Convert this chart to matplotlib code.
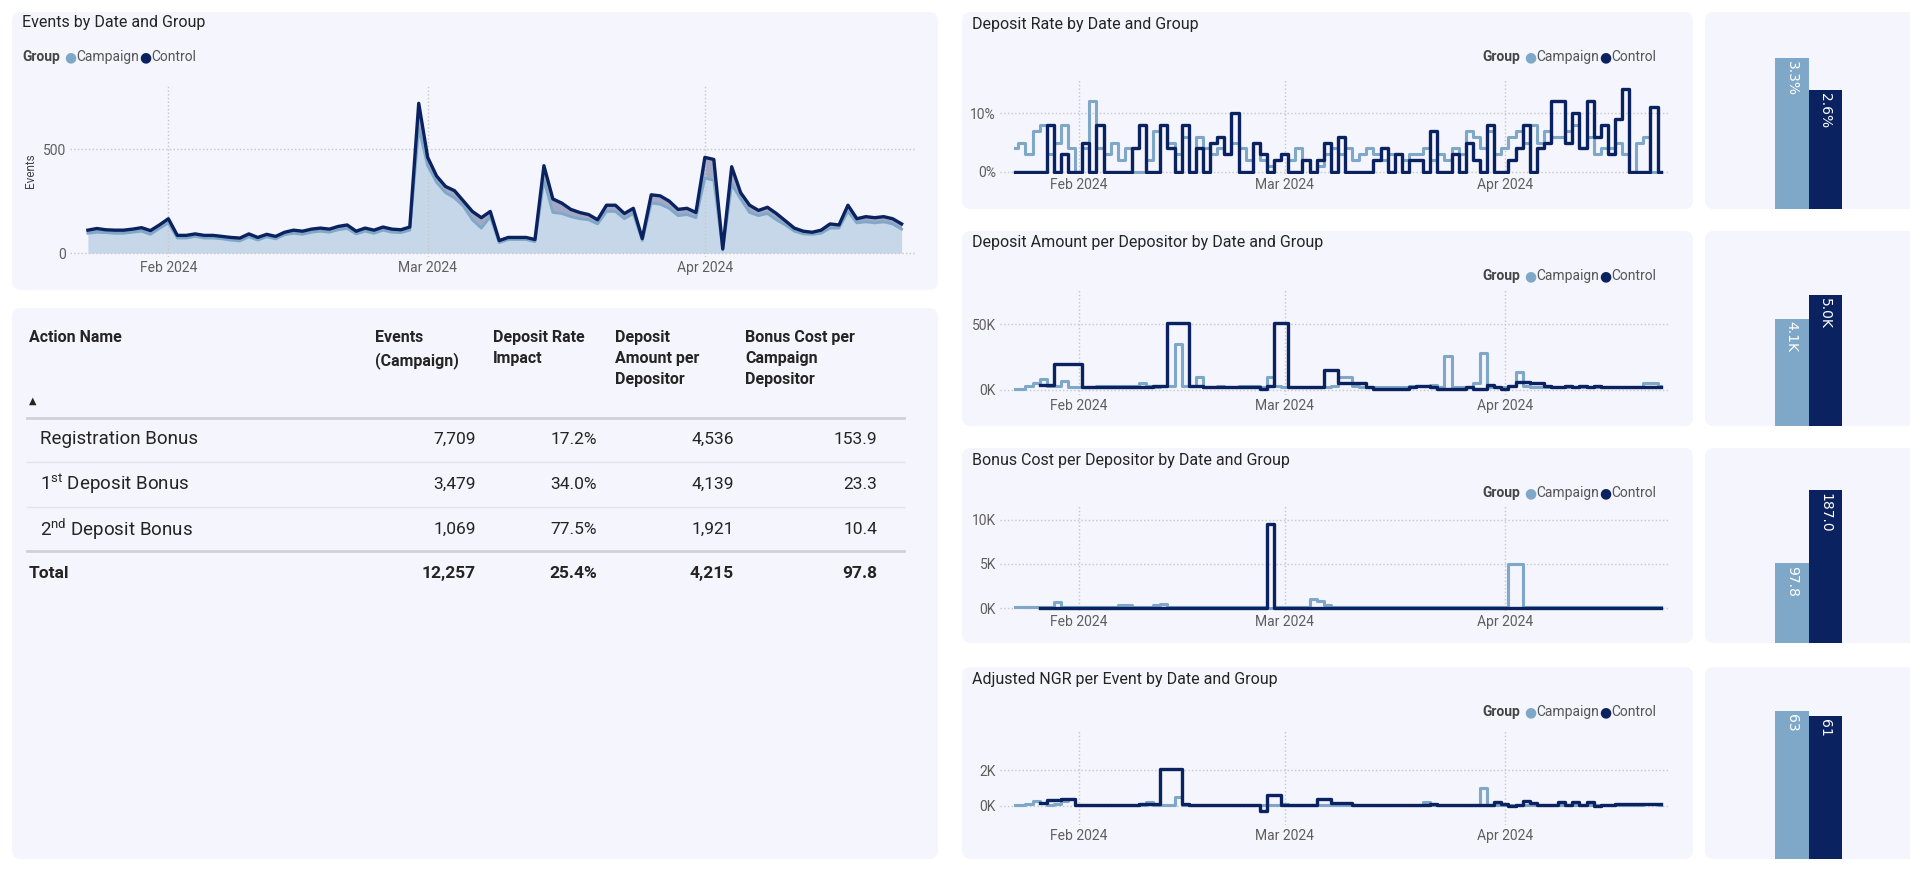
import numpy as np
import pandas as pd
import matplotlib
matplotlib.use("Agg")
import matplotlib.pyplot as plt
import matplotlib.dates as mdates
from matplotlib.patches import FancyBboxPatch
from matplotlib.transforms import IdentityTransform

plt.rcParams['font.family'] = ['Roboto', 'DejaVu Sans']
plt.rcParams['mathtext.default'] = 'regular'

W, H = 1910, 872
C_CAMP = "#7FA8C8"
C_CTRL = "#0B2260"
PANEL = "#F4F5FD"
GRAY = "#605E5C"

### data ###
dates = pd.date_range("2024-01-23", periods=92)

events_control = [110, 118, 112, 110, 110, 115, 122, 108, 135, 165,
                  85, 85, 92, 85, 85, 80, 75, 72, 92, 75,
                  90, 80, 100, 110, 105, 115, 120, 115, 128, 135,
                  105, 120, 110, 125, 115, 112, 125,
                  720, 460, 370, 320, 300, 250, 200, 170, 200, 60,
                  75, 75, 75, 65, 420, 260, 240, 210, 195, 185,
                  160, 230, 230, 190, 215, 70, 280, 275, 250, 210,
                  215, 195, 460, 450, 20, 415, 290, 230, 205, 220,
                  190, 155, 120, 105, 100, 110, 140, 135, 230, 165,
                  175, 170, 175, 165, 140]
events_campaign = [95, 100, 98, 95, 95, 100, 105, 90, 118, 145,
                   72, 72, 80, 72, 72, 68, 62, 58, 78, 62,
                   78, 68, 88, 95, 90, 100, 105, 100, 112, 118,
                   92, 105, 95, 110, 100, 98, 110,
                   600, 420, 340, 290, 265, 225, 160, 120, 175, 50,
                   65, 65, 65, 55, 350, 195, 190, 175, 165, 160,
                   140, 200, 200, 165, 190, 60, 240, 235, 215, 180,
                   185, 170, 360, 350, 15, 330, 260, 195, 180, 190,
                   160, 135, 105, 92, 90, 95, 120, 120, 200, 145,
                   150, 145, 150, 140, 115]

rate_control = [0, 0, 0, 0, 0, 8, 0, 3, 0, 0, 5, 0, 8, 0, 0, 0, 0, 4, 8, 0,
                0, 8, 4, 0, 8, 0, 4, 0, 5, 6, 3, 10, 0, 0, 5, 3, 0, 2, 3, 0,
                0, 2, 0, 2, 5, 0, 6, 0, 0, 0, 0, 2, 4, 0, 3, 0, 2, 2, 0, 7,
                0, 0, 3, 0, 5, 2, 0, 8, 0, 0, 2, 4, 8, 0, 4, 5, 12, 12, 5, 10,
                4, 12, 6, 8, 3, 9, 14, 0, 0, 0, 11, 0]
rate_campaign = [4, 5, 3, 7, 8, 3, 5, 8, 4, 0, 4, 12, 4, 3, 5, 2, 4, 0, 0, 2,
                 7, 8, 5, 3, 6, 0, 6, 4, 3, 4, 3, 5, 4, 2, 5, 2, 1, 2, 3, 2,
                 4, 2, 0, 1, 3, 4, 3, 4, 2, 3, 4, 3, 2, 3, 3, 2, 3, 3, 4, 2,
                 3, 2, 4, 3, 7, 6, 4, 7, 3, 4, 6, 7, 5, 8, 5, 7, 6, 6, 7, 8,
                 4, 6, 3, 4, 4, 5, 3, 0, 5, 6, 0, 0]

amount_control = [np.nan, np.nan, np.nan, np.nan, 4, 4, 20, 20, 20, 20,
                  2, 2, 2, 2, 2, 2, 2, 2, 2, 2, 3, 3, 51, 51, 51, 3, 3, 2, 2, 2,
                  2, 2, 2, 2, 2, 1, 3, 51, 51, 2, 2, 2, 2, 2, 15, 15, 5, 5, 5, 5,
                  2, 1, 1, 1, 1, 1, 2, 3, 3, 2, 1, 1, 1, 1, 2, 1, 1, 4, 2, 1,
                  3, 6, 6, 5, 5, 3, 2, 2, 3, 2, 3, 2, 3, 2, 2, 2, 2, 2, 2, 2, 2, 2]
amount_campaign = [1, 1, 3, 5, 8, 3, 3, 7, 2, 2, 2, 2, 3, 3, 3, 3, 3, 3, 5, 3,
                   2, 3, 3, 35, 3, 3, 10, 2, 2, 3, 2, 2, 3, 3, 3, 2, 10, 3, 2, 2,
                   2, 2, 2, 2, 2, 3, 10, 10, 3, 2, 2, 2, 2, 2, 2, 2, 3, 3, 3, 4,
                   2, 26, 2, 2, 2, 5, 28, 2, 2, 2, 3, 14, 3, 2, 2, 2, 2, 2, 2, 2,
                   2, 2, 2, 2, 2, 2, 2, 2, 2, 5, 5, 3]

bonus_control = [np.nan, np.nan, np.nan, np.nan, 0.05, 0.05, 0.05, 0.05, 0.05, 0.05,
                 0.05, 0.05, 0.05, 0.05, 0.05, 0.05, 0.05, 0.05, 0.05, 0.05,
                 0.05, 0.05, 0.05, 0.05, 0.05, 0.05, 0.05, 0.05, 0.05, 0.05,
                 0.05, 0.05, 0.05, 0.05, 0.05, 0.05, 9.5, 0.05, 0.05, 0.05,
                 0.05, 0.05, 0.05, 0.05, 0.05, 0.05, 0.05, 0.05, 0.05, 0.05,
                 0.05, 0.05, 0.05, 0.05, 0.05, 0.05, 0.05, 0.05, 0.05, 0.05,
                 0.05, 0.05, 0.05, 0.05, 0.05, 0.05, 0.05, 0.05, 0.05, 0.05,
                 0.05, 0.05, 0.05, 0.05, 0.05, 0.05, 0.05, 0.05, 0.05, 0.05,
                 0.05, 0.05, 0.05, 0.05, 0.05, 0.05, 0.05, 0.05, 0.05, 0.05, 0.05, 0.05]
bonus_campaign = [0.1, 0.1, 0.1, 0.1, 0.1, 0.1, 0.7, 0.1, 0.1, 0.1,
                  0.1, 0.1, 0.1, 0.1, 0.1, 0.3, 0.3, 0.1, 0.1, 0.1,
                  0.3, 0.5, 0.1, 0.1, 0.1, 0.1, 0.1, 0.1, 0.1, 0.1,
                  0.1, 0.1, 0.1, 0.1, 0.1, 0.1, 0.0, 0.1, 0.1, 0.1,
                  0.1, 0.1, 1.0, 0.8, 0.3, 0.1, 0.1, 0.1, 0.1, 0.1,
                  0.1, 0.1, 0.1, 0.1, 0.1, 0.1, 0.1, 0.1, 0.1, 0.1,
                  0.1, 0.1, 0.1, 0.1, 0.1, 0.1, 0.1, 0.1, 0.1, 0.1,
                  5.0, 5.0, 0.1, 0.1, 0.1, 0.1, 0.1, 0.1, 0.1, 0.1,
                  0.1, 0.1, 0.1, 0.1, 0.1, 0.1, 0.1, 0.1, 0.1, 0.1, 0.1, 0.1]

ngr_control = [np.nan, np.nan, np.nan, np.nan, 0.15, 0.3, 0.3, 0.35, 0.35, 0.05,
               0.05, 0.05, 0.05, 0.05, 0.05, 0.05, 0.05, 0.05, 0.1, 0.1,
               0.1, 2.1, 2.1, 2.1, 0.1, 0.05, 0.05, 0.05, 0.05, 0.05,
               0.05, 0.05, 0.05, 0.05, 0.05, -0.3, 0.6, 0.6, 0.05, 0.05,
               0.05, 0.05, 0.05, 0.35, 0.35, 0.15, 0.15, 0.15, 0.05, 0.05,
               0.05, 0.05, 0.05, 0.05, 0.05, 0.05, 0.05, 0.05, 0.05, 0.1,
               0.05, 0.05, 0.05, 0.05, 0.05, 0.05, 0.05, 0.05, 0.2, 0.1,
               -0.05, 0.05, 0.25, 0.15, 0.05, 0.05, 0.05, 0.2, 0.05, 0.2,
               0.05, 0.2, 0.0, 0.05, 0.05, 0.1, 0.1, 0.1, 0.1, 0.1, 0.1, 0.1]
ngr_campaign = [0.05, 0.05, 0.1, 0.25, 0.15, 0.05, 0.1, 0.25, 0.4, 0.05,
                0.05, 0.05, 0.05, 0.05, 0.05, 0.05, 0.05, 0.05, 0.05, 0.2,
                0.05, 0.05, 0.05, 0.5, 0.05, 0.05, 0.05, 0.05, 0.05, 0.05,
                0.05, 0.05, 0.05, 0.05, 0.05, 0.05, 0.05, 0.05, 0.1, 0.05,
                0.05, 0.05, 0.05, 0.05, 0.05, 0.05, 0.05, 0.05, 0.05, 0.05,
                0.05, 0.05, 0.05, 0.05, 0.05, 0.05, 0.05, 0.05, 0.2, 0.05,
                0.05, 0.05, 0.05, 0.05, 0.05, 0.05, 1.0, 0.05, 0.05, 0.05,
                0.05, 0.05, 0.05, 0.05, 0.05, 0.05, 0.05, 0.05, 0.05, 0.05,
                0.05, 0.05, 0.05, 0.05, 0.05, 0.05, 0.05, 0.05, 0.05, 0.1, 0.1, 0.05]

bar_values = [(3.3, 2.6), (4.1, 5.0), (97.8, 187.0), (63, 61)]
bar_labels = [("3.3%", "2.6%"), ("4.1K", "5.0K"), ("97.8", "187.0"), ("63", "61")]

table_header = ["Action Name", "Events\n(Campaign)", "Deposit Rate\nImpact",
                "Deposit\nAmount per\nDepositor", "Bonus Cost per\nCampaign\nDepositor"]
table_rows = ["Registration Bonus", r"1$^{st}$ Deposit Bonus", r"2$^{nd}$ Deposit Bonus"]
table_values = [["7,709", "17.2%", "4,536", "153.9"],
                ["3,479", "34.0%", "4,139", "23.3"],
                ["1,069", "77.5%", "1,921", "10.4"]]
table_total = ["12,257", "25.4%", "4,215", "97.8"]

### helpers (all positions in pixels from top-left) ###
fig = plt.figure(figsize=(W / 100, H / 100), dpi=100)
fig.patch.set_facecolor("white")


def panel(x, y, w, h):
    fig.add_artist(FancyBboxPatch((x, H - y - h), w, h, boxstyle="round,pad=0,rounding_size=9",
                                  transform=IdentityTransform(), fc=PANEL, ec="none", zorder=0))


def axes_px(x, y, w, h):
    ax = fig.add_axes([x / W, 1 - (y + h) / H, w / W, h / H])
    ax.set_facecolor("none")
    for s in ax.spines.values():
        s.set_visible(False)
    return ax


def txt(x, y, s, **kw):
    fig.text(x / W, 1 - y / H, s, **kw)


def legend(x, y):
    txt(x, y, "Group", fontsize=10, fontweight="bold", color="#444", va="center")
    txt(x + 42, y, "●", fontsize=10, color=C_CAMP, va="center", family="DejaVu Sans")
    txt(x + 54, y, "Campaign", fontsize=10, color="#555", va="center")
    txt(x + 117, y, "●", fontsize=10, color=C_CTRL, va="center", family="DejaVu Sans")
    txt(x + 129, y, "Control", fontsize=10, color="#555", va="center")


def style_time_axis(ax):
    ax.xaxis.set_major_locator(mdates.MonthLocator(bymonth=[2, 3, 4]))
    ax.xaxis.set_major_formatter(mdates.DateFormatter("%b %Y"))
    ax.grid(True, color="#C8C8C8", linestyle=":", linewidth=1)
    ax.tick_params(length=0, labelsize=10, labelcolor=GRAY, pad=3)
    ax.set_xlim(pd.Timestamp("2024-01-20 22:00"), pd.Timestamp("2024-04-24 06:00"))


### events chart ###
panel(12, 12, 926, 278)
txt(22, 23, "Events by Date and Group", fontsize=11.5, color="#252423", va="center")
legend(22, 57)
ax = axes_px(70, 85, 845, 172)
ax.fill_between(dates, 0, events_campaign, color="#C6D7E9", lw=0)
ax.fill_between(dates, events_campaign, events_control, color="#8F95B8", alpha=0.8, lw=0)
ax.plot(dates, events_campaign, color=C_CAMP, lw=2)
ax.plot(dates, events_control, color=C_CTRL, lw=2.4)
style_time_axis(ax)
ax.set_xlim(pd.Timestamp("2024-01-21"), pd.Timestamp("2024-04-24 12:00"))
ax.set_ylim(-19, 808)
ax.set_yticks([0, 500])
ax.set_ylabel("Events", fontsize=8.5, color="#444", labelpad=4)

### table ###
panel(12, 308, 926, 551)
col_x = [29, 375, 493, 615, 745]
num_right = [476, 597, 734, 877]
for i, h in enumerate(table_header):
    txt(col_x[i], 330, h, fontsize=11.5, fontweight="bold", color="#252423", va="top", linespacing=1.5)
txt(29, 401, "▲", fontsize=7, color="#252423", va="center", family="DejaVu Sans")
line_kw = dict(transform=IdentityTransform(), color="#D0D0D8")
fig.add_artist(plt.Line2D([27, 904], [H - 418, H - 418], lw=2, **line_kw))
for yy in [462, 507]:
    fig.add_artist(plt.Line2D([27, 904], [H - yy, H - yy], lw=1, color="#E2E2EA", transform=IdentityTransform()))
fig.add_artist(plt.Line2D([27, 904], [H - 551, H - 551], lw=2, **line_kw))
row_y = [439, 484, 529]
for r, name in enumerate(table_rows):
    txt(40, row_y[r], name, fontsize=13.5, color="#252423", va="center")
    for c, v in enumerate(table_values[r]):
        txt(num_right[c], row_y[r], v, fontsize=12.5, color="#252423", va="center", ha="right")
txt(29, 573, "Total", fontsize=12.5, fontweight="bold", color="#252423", va="center")
for c, v in enumerate(table_total):
    txt(num_right[c], 573, v, fontsize=12.5, fontweight="bold", color="#252423", va="center", ha="right")

### right step charts ###
charts = [
    ("Deposit Rate by Date and Group", 12, 197, rate_campaign, rate_control, 80, 94, (-0.34, 15.6), [0, 10], ["0%", "10%"]),
    ("Deposit Amount per Depositor by Date and Group", 231, 195, amount_campaign, amount_control, 290, 105, (-3.8, 75.8), [0, 50], ["0K", "50K"]),
    ("Bonus Cost per Depositor by Date and Group", 448, 195, bonus_campaign, bonus_control, 505, 106, (-0.34, 11.7), [0, 5, 10], ["0K", "5K", "10K"]),
    ("Adjusted NGR per Event by Date and Group", 667, 192, ngr_campaign, ngr_control, 730, 95, (-1.1, 4.29), [0, 2], ["0K", "2K"]),
]
for k, (title, py, ph, camp, ctrl, ay, ah, ylim, yt, ytl) in enumerate(charts):
    panel(962, py, 731, ph)
    txt(972, py + 12, title, fontsize=11.5, color="#252423", va="center")
    legend(1482, py + 45)
    ax = axes_px(1000, ay, 670, ah)
    ax.step(dates, camp, where="mid", color=C_CAMP, lw=2.2)
    ax.step(dates, ctrl, where="mid", color=C_CTRL, lw=2.4)
    style_time_axis(ax)
    ax.set_ylim(*ylim)
    ax.set_yticks(yt)
    ax.set_yticklabels(ytl)

    # summary bar panel
    panel(1705, py, 230, ph)
    top = py + [46, 64, 42, 44][k]
    bax = axes_px(1775, top, 67, py + ph - top)
    vmax = max(bar_values[k])
    bax.bar([0, 1], bar_values[k], width=1, align="edge", color=[C_CAMP, C_CTRL])
    for i, (v, lab) in enumerate(zip(bar_values[k], bar_labels[k])):
        bax.text(i + 0.5, v - vmax * 0.02, lab, rotation=-90, ha="center", va="top",
                 color="white", fontsize=10, family="DejaVu Sans")
    bax.set_xlim(0, 2)
    bax.set_ylim(0, vmax)
    bax.set_xticks([])
    bax.set_yticks([])

fig.savefig("out.png", dpi=100, facecolor="white")
